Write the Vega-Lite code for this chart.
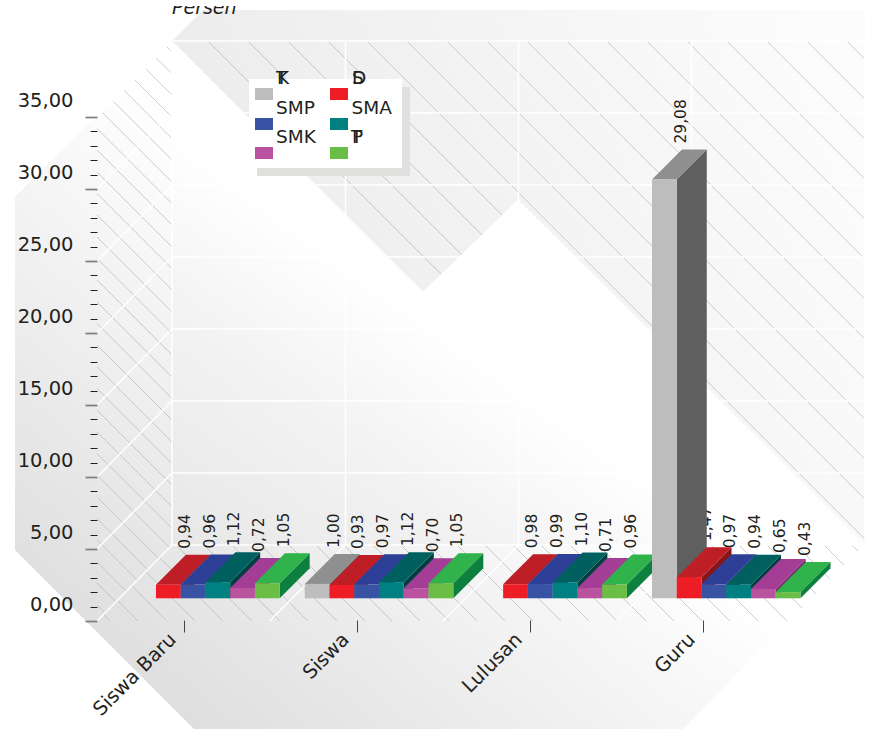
{
"$schema":"https://vega.github.io/schema/vega-lite/v6.json",
"width":870,"height":729,"padding":0,"autosize":"none","background":"#ffffff",
"config":{"view":{"stroke":null},"font":"DejaVu Sans","text":{"font":"DejaVu Sans"}},
"datasets":{
"bars":[
{"group":"Siswa Baru","series":"SD","value":0.94},{"group":"Siswa Baru","series":"SMP","value":0.96},{"group":"Siswa Baru","series":"SMA","value":1.12},{"group":"Siswa Baru","series":"SMK","value":0.72},{"group":"Siswa Baru","series":"PT","value":1.05},
{"group":"Siswa","series":"TK","value":1.00},{"group":"Siswa","series":"SD","value":0.93},{"group":"Siswa","series":"SMP","value":0.97},{"group":"Siswa","series":"SMA","value":1.12},{"group":"Siswa","series":"SMK","value":0.70},{"group":"Siswa","series":"PT","value":1.05},
{"group":"Lulusan","series":"SD","value":0.98},{"group":"Lulusan","series":"SMP","value":0.99},{"group":"Lulusan","series":"SMA","value":1.10},{"group":"Lulusan","series":"SMK","value":0.71},{"group":"Lulusan","series":"PT","value":0.96},
{"group":"Guru","series":"TK","value":29.08},{"group":"Guru","series":"SD","value":1.47},{"group":"Guru","series":"SMP","value":0.97},{"group":"Guru","series":"SMA","value":0.94},{"group":"Guru","series":"SMK","value":0.65},{"group":"Guru","series":"PT","value":0.43}
],
"wallHatch":[
{"a":208,"b":712,"c":41,"d":545},{"a":248,"b":752,"c":41,"d":545},{"a":288,"b":792,"c":41,"d":545},{"a":328,"b":832,"c":41,"d":545},{"a":367,"b":865,"c":41,"d":539},{"a":407,"b":865,"c":41,"d":499},{"a":447,"b":865,"c":41,"d":459},{"a":487,"b":865,"c":41,"d":419},{"a":527,"b":865,"c":41,"d":379},{"a":567,"b":865,"c":41,"d":339},{"a":607,"b":865,"c":41,"d":299},{"a":647,"b":865,"c":41,"d":259},{"a":687,"b":865,"c":41,"d":219},{"a":727,"b":865,"c":41,"d":179},{"a":767,"b":865,"c":41,"d":139},{"a":807,"b":865,"c":41,"d":99},{"a":847,"b":865,"c":41,"d":59}
],
"sideHatch":[
{"a":167,"b":172,"c":47,"d":52},{"a":156,"b":172,"c":58,"d":73.5},{"a":145.5,"b":172,"c":68.5,"d":95},{"a":134.5,"b":172,"c":79.5,"d":117},{"a":123.75,"b":172,"c":90,"d":138.5},{"a":113,"b":172,"c":101,"d":160},{"a":102,"b":172,"c":112,"d":182},
{"a":97,"b":172,"c":128.5,"d":203.5},{"a":97,"b":172,"c":150,"d":225},{"a":97,"b":172,"c":172,"d":247},{"a":97,"b":172,"c":193.5,"d":268.5},{"a":97,"b":172,"c":215,"d":290},{"a":97,"b":172,"c":237,"d":312},{"a":97,"b":172,"c":258.5,"d":333.5},{"a":97,"b":172,"c":280,"d":355},{"a":97,"b":172,"c":302,"d":377},{"a":97,"b":172,"c":323.5,"d":398.5},{"a":97,"b":172,"c":345,"d":420},{"a":97,"b":172,"c":367,"d":442},{"a":97,"b":172,"c":388.5,"d":463.5},{"a":97,"b":172,"c":410,"d":485},{"a":97,"b":172,"c":432,"d":507},{"a":97,"b":172,"c":453.5,"d":528.5},
{"a":97,"b":170,"c":475,"d":548},{"a":97,"b":159,"c":497,"d":559},{"a":97,"b":148,"c":518.5,"d":570},{"a":97,"b":137.5,"c":540,"d":580.5},{"a":97,"b":126.5,"c":562,"d":591.5},{"a":97,"b":116,"c":583,"d":602},{"a":97,"b":105,"c":605,"d":613},
{"a":103.5,"b":110,"c":614.5,"d":621},{"a":117.5,"b":138,"c":600.5,"d":621},{"a":132,"b":167,"c":586,"d":621},{"a":146,"b":195,"c":572,"d":621},{"a":160,"b":223,"c":558,"d":621},{"a":176,"b":252,"c":545,"d":621},{"a":204,"b":280,"c":545,"d":621},{"a":232,"b":308,"c":545,"d":621},{"a":261,"b":337,"c":545,"d":621},{"a":289,"b":365,"c":545,"d":621},{"a":316,"b":392,"c":545,"d":621},{"a":344,"b":420,"c":545,"d":621},{"a":373,"b":449,"c":545,"d":621},{"a":401,"b":477,"c":545,"d":621},{"a":429,"b":505,"c":545,"d":621},{"a":457,"b":533,"c":545,"d":621},{"a":485,"b":561,"c":545,"d":621},{"a":513,"b":589,"c":545,"d":621},{"a":541,"b":617,"c":545,"d":621},{"a":570,"b":646,"c":545,"d":621},{"a":598,"b":674,"c":545,"d":621},{"a":626,"b":702,"c":545,"d":621},{"a":654,"b":730,"c":545,"d":621},{"a":682,"b":758,"c":545,"d":621},{"a":711,"b":787,"c":545,"d":621},{"a":739,"b":802.5,"c":545,"d":608.5},{"a":767,"b":816.5,"c":545,"d":594.5},{"a":796,"b":831,"c":545,"d":580},{"a":824,"b":845,"c":545,"d":566},{"a":852,"b":859,"c":545,"d":552}
],
"grid":[
{"a":172,"b":172,"c":41,"d":545},{"a":345.5,"b":345.5,"c":41,"d":545},{"a":518.5,"b":518.5,"c":41,"d":545},{"a":691.5,"b":691.5,"c":41,"d":545},{"a":865,"b":865,"c":41,"d":545},
{"a":172,"b":865,"c":41,"d":41},{"a":172,"b":865,"c":113,"d":113},{"a":172,"b":865,"c":185,"d":185},{"a":172,"b":865,"c":257,"d":257},{"a":172,"b":865,"c":329,"d":329},{"a":172,"b":865,"c":401,"d":401},{"a":172,"b":865,"c":473,"d":473},{"a":172,"b":865,"c":545,"d":545},
{"a":97,"b":172,"c":621,"d":545},{"a":97,"b":172,"c":549,"d":473},{"a":97,"b":172,"c":477,"d":401},{"a":97,"b":172,"c":405,"d":329},{"a":97,"b":172,"c":333,"d":257},{"a":97,"b":172,"c":261,"d":185},{"a":97,"b":172,"c":189,"d":113},{"a":97,"b":172,"c":117,"d":41},
{"a":269.5,"b":345.5,"c":621,"d":545},{"a":443,"b":518.5,"c":621,"d":545},{"a":616.5,"b":691.5,"c":621,"d":545},{"a":790,"b":865,"c":621,"d":545}
],
"swatches":[
{"series":"TK","a":255,"b":273,"c":88,"d":100},{"series":"SD","a":330,"b":348,"c":88,"d":100},{"series":"SMP","a":255,"b":273,"c":118,"d":130},{"series":"SMA","a":330,"b":348,"c":118,"d":130},{"series":"SMK","a":255,"b":273,"c":147,"d":159},{"series":"PT","a":330,"b":348,"c":147,"d":159}
],
"legendText":[
{"t":"T","a":276,"c":84},{"t":"K","a":277,"c":84},{"t":"S","a":352,"c":84},{"t":"D","a":352,"c":84},{"t":"SMP","a":276,"c":113.5},{"t":"SMA","a":351.5,"c":113.5},{"t":"SMK","a":276,"c":142.5},{"t":"P","a":352,"c":142.5},{"t":"T","a":351,"c":142.5}
]
},
"layer":[
{
"layer":[
{"data":{"values":[{"a":15,"c":197,"d":550},{"a":194,"c":18,"d":729},{"a":202,"c":10,"d":729},{"a":683,"c":10,"d":729},{"a":865,"c":10,"d":545}]},
"mark":{"type":"area","orient":"vertical","fill":{"gradient":"linear","x1":0,"y1":1,"x2":1,"y2":0,"stops":[{"offset":0.1,"color":"#dedede"},{"offset":0.52,"color":"#ffffff"},{"offset":1,"color":"#ffffff"}]}},
"encoding":{"x":{"field":"a","type":"quantitative","scale":{"domain":[0,870],"nice":false,"zero":false},"axis":null},"y":{"field":"c","type":"quantitative","scale":{"domain":[729,0],"nice":false,"zero":false},"axis":null},"y2":{"field":"d"}}},
{"data":{"values":[{"a":172,"c":41,"d":41},{"a":203,"c":10,"d":72},{"a":423,"c":10,"d":292},{"a":518,"c":10,"d":200},{"a":865,"c":10,"d":545}]},
"mark":{"type":"area","orient":"vertical","fill":{"gradient":"linear","x1":0,"y1":0.5,"x2":1,"y2":0.2,"stops":[{"offset":0,"color":"#eaeaea"},{"offset":1,"color":"#fcfcfc"}]}},
"encoding":{"x":{"field":"a","type":"quantitative","axis":null},"y":{"field":"c","type":"quantitative","axis":null},"y2":{"field":"d"}}},
{"data":{"name":"wallHatch"},"mark":{"type":"rule","stroke":"#b8b8b8","strokeWidth":0.7},
"encoding":{"x":{"field":"a","type":"quantitative","axis":null},"x2":{"field":"b"},"y":{"field":"c","type":"quantitative","axis":null},"y2":{"field":"d"}}},
{"data":{"values":[{"a":172,"c":41,"d":545},{"a":423,"c":292,"d":545},{"a":518,"c":200,"d":545},{"a":865,"c":545,"d":545}]},
"mark":{"type":"area","orient":"vertical","fill":{"gradient":"linear","x1":0,"y1":1,"x2":1,"y2":0,"stops":[{"offset":0,"color":"#e7e7e7"},{"offset":0.24,"color":"#f3f3f3"},{"offset":0.41,"color":"#ffffff"},{"offset":1,"color":"#ffffff"}]}},
"encoding":{"x":{"field":"a","type":"quantitative","axis":null},"y":{"field":"c","type":"quantitative","axis":null},"y2":{"field":"d"}}},
{"data":{"name":"sideHatch"},"mark":{"type":"rule","stroke":"#b8b8b8","strokeWidth":0.7},
"encoding":{"x":{"field":"a","type":"quantitative","axis":null},"x2":{"field":"b"},"y":{"field":"c","type":"quantitative","axis":null},"y2":{"field":"d"}}},
{"data":{"name":"grid"},"mark":{"type":"rule","stroke":"#ffffff","strokeWidth":1.5},
"encoding":{"x":{"field":"a","type":"quantitative","axis":null},"x2":{"field":"b"},"y":{"field":"c","type":"quantitative","axis":null},"y2":{"field":"d"}}},
{"data":{"values":[{"a":257,"b":410,"c":87,"d":176}]},"mark":{"type":"rect","fill":"#e0e0df"},
"encoding":{"x":{"field":"a","type":"quantitative","axis":null},"x2":{"field":"b"},"y":{"field":"c","type":"quantitative","axis":null},"y2":{"field":"d"}}},
{"data":{"values":[{"a":249,"b":402,"c":79,"d":168}]},"mark":{"type":"rect","fill":"#ffffff"},
"encoding":{"x":{"field":"a","type":"quantitative","axis":null},"x2":{"field":"b"},"y":{"field":"c","type":"quantitative","axis":null},"y2":{"field":"d"}}},
{"data":{"name":"swatches"},"mark":{"type":"rect"},
"encoding":{"x":{"field":"a","type":"quantitative","axis":null},"x2":{"field":"b"},"y":{"field":"c","type":"quantitative","axis":null},"y2":{"field":"d"},
"color":{"field":"series","type":"nominal","scale":{"domain":["TK","SD","SMP","SMA","SMK","PT"],"range":["#bdbdbd","#ee1c25","#3953a4","#008080","#b9529f","#6abd45"]},"legend":null}}},
{"data":{"name":"legendText"},"mark":{"type":"text","align":"left","baseline":"alphabetic","fontSize":18.5,"color":"#231f20"},
"encoding":{"x":{"field":"a","type":"quantitative","axis":null},"y":{"field":"c","type":"quantitative","axis":null},"text":{"field":"t"}}},
{"data":{"values":[{"a":172,"c":14,"t":"Persen"}]},"mark":{"type":"text","align":"left","baseline":"alphabetic","fontSize":19,"fontStyle":"italic","color":"#231f20"},
"encoding":{"x":{"field":"a","type":"quantitative","axis":null},"y":{"field":"c","type":"quantitative","axis":null},"text":{"field":"t"}}},
{"data":{"values":[{"a":165,"b":245,"c":0,"d":6}]},"mark":{"type":"rect","fill":"#ffffff"},
"encoding":{"x":{"field":"a","type":"quantitative","axis":null},"x2":{"field":"b"},"y":{"field":"c","type":"quantitative","axis":null},"y2":{"field":"d"}}}
]
},
{
"data":{"name":"bars"},
"transform":[
{"calculate":"indexof(['Siswa Baru','Siswa','Lulusan','Guru'],datum.group)","as":"gi"},
{"calculate":"indexof(['TK','SD','SMP','SMA','SMK','PT'],datum.series)","as":"si"},
{"calculate":"131.2+173.6*datum.gi+24.75*datum.si","as":"x0"},
{"calculate":"datum.x0+24.75","as":"x1"}
],
"resolve":{"scale":{"color":"independent"}},
"layer":[
{"transform":[{"calculate":"replace(format(datum.value,'.2f'),'.',',')","as":"label"}],
"mark":{"type":"text","angle":270,"align":"left","baseline":"middle","fontSize":15.5,"dx":36,"dy":16.5,"color":"#231f20"},
"encoding":{"x":{"field":"x0","type":"quantitative","scale":{"domain":[-12.375,857.625],"nice":false,"zero":false},"axis":null},"y":{"field":"value","type":"quantitative","scale":{"domain":[-9.0764,41.549],"nice":false,"zero":false},"axis":null},"text":{"field":"label"}}},
{"transform":[{"fold":["front","back"],"as":["face","unused"]},{"calculate":"datum.face==='back'?1:0","as":"k"},{"calculate":"datum.x1+30*datum.k-12.375","as":"px"},{"calculate":"datum.value+2.0833*datum.k","as":"vt"},{"calculate":"2.0833*datum.k","as":"vb"}],
"mark":{"type":"area","orient":"vertical"},
"encoding":{"x":{"field":"px","type":"quantitative","axis":null},"y":{"field":"vt","type":"quantitative","axis":null},"y2":{"field":"vb"},"detail":[{"field":"group"},{"field":"series"}],
"color":{"field":"series","type":"nominal","scale":{"domain":["TK","SD","SMP","SMA","SMK","PT"],"range":["#5f5f5f","#8a1418","#1f2a66","#003f3f","#7a2e70","#0d7f3f"]},"legend":null}}},
{"transform":[{"fold":["front","back"],"as":["face","unused"]},{"calculate":"datum.face==='back'?1:0","as":"k"},{"calculate":"datum.x0+30*datum.k-12.375","as":"pa"},{"calculate":"datum.x1+30*datum.k-12.375","as":"pb"},{"calculate":"datum.value+2.0833*datum.k","as":"vt"}],
"mark":{"type":"area","orient":"horizontal"},
"encoding":{"x":{"field":"pa","type":"quantitative","axis":null},"x2":{"field":"pb"},"y":{"field":"vt","type":"quantitative","axis":null},"detail":[{"field":"group"},{"field":"series"}],
"color":{"field":"series","type":"nominal","scale":{"domain":["TK","SD","SMP","SMA","SMK","PT"],"range":["#8f8f8f","#be1e25","#2e3f98","#006060","#a33d96","#2fb34a"]},"legend":null}}},
{"transform":[{"calculate":"datum.x0-12.375","as":"pa"},{"calculate":"datum.x1-12.375","as":"pb"}],
"mark":{"type":"rect"},
"encoding":{"x":{"field":"pa","type":"quantitative","axis":null},"x2":{"field":"pb"},"y":{"field":"value","type":"quantitative","axis":null},"y2":{"datum":0},
"color":{"field":"series","type":"nominal","scale":{"domain":["TK","SD","SMP","SMA","SMK","PT"],"range":["#bdbdbd","#ee1c25","#3953a4","#008080","#b9529f","#6abd45"]},"legend":null}}}
]
},
{
"data":{"name":"bars"},
"mark":{"type":"point","opacity":0},
"encoding":{
"x":{"field":"group","type":"nominal","sort":["Siswa Baru","Siswa","Lulusan","Guru"],"scale":{"type":"band","domain":["Siswa Baru","Siswa","Lulusan","Guru"],"range":[97.5,789.5],"paddingInner":0,"paddingOuter":0},
"axis":{"title":null,"orient":"bottom","offset":-109,"domain":false,"tickSize":12,"tickColor":"#444444","tickWidth":1,"labelAngle":-45,"labelAlign":"right","labelBaseline":"middle","labelFontSize":19.5,"labelColor":"#231f20","labelPadding":4,"labelOffset":-11,"labelOverlap":false,"zindex":1}},
"y":{"field":"value","type":"quantitative","scale":{"domain":[-7.5,43.125],"nice":false,"zero":false},
"axis":{"title":null,"orient":"left","offset":-97,"domain":false,"grid":false,"values":[0,1,2,3,4,5,6,7,8,9,10,11,12,13,14,15,16,17,18,19,20,21,22,23,24,25,26,27,28,29,30,31,32,33,34,35],
"tickSize":{"condition":{"test":"datum.value % 5 === 0","value":12},"value":7},
"tickWidth":{"condition":{"test":"datum.value % 5 === 0","value":1.75},"value":1},
"tickColor":{"condition":{"test":"datum.value % 5 === 0","value":"#7f7f7f"},"value":"#231f20"},
"labelExpr":"datum.value % 5 === 0 ? replace(format(datum.value,'.2f'),'.',',') : ''",
"labelFontSize":19.5,"labelColor":"#231f20","labelOffset":-17,"labelPadding":12,"labelOverlap":false,"zindex":1}}
}
}
],
"resolve":{"scale":{"x":"independent","y":"independent","color":"independent"},"axis":{"x":"independent","y":"independent"}}
}
